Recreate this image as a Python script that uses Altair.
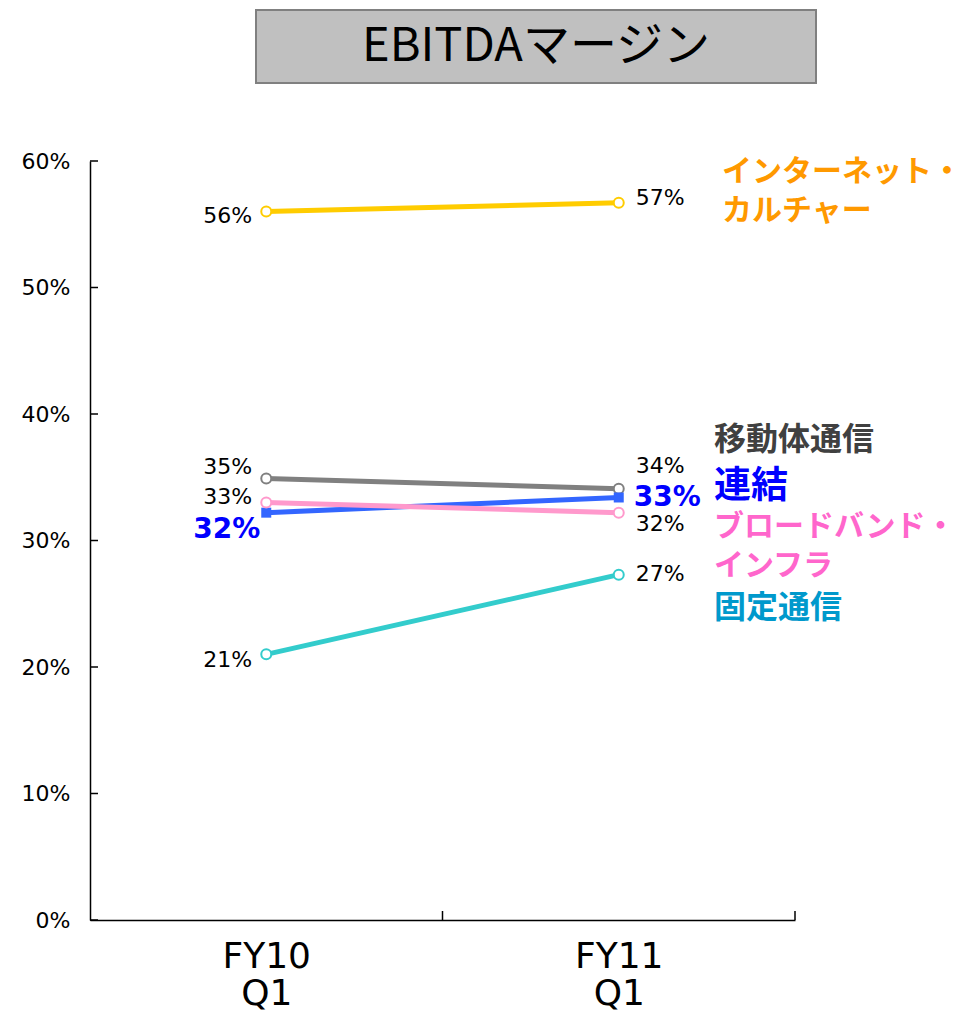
import altair as alt
import pandas as pd

periods = ["FY10 Q1", "FY11 Q1"]
series = ["固定通信", "インターネット・カルチャー", "移動体通信", "連結", "ブロードバンド・インフラ"]
values = {
    "固定通信": [21.0, 27.3],
    "インターネット・カルチャー": [56.0, 56.7],
    "移動体通信": [34.9, 34.1],
    "連結": [32.2, 33.4],
    "ブロードバンド・インフラ": [33.0, 32.2],
}
label_text = {
    "固定通信": ["21%", "27%"],
    "インターネット・カルチャー": ["56%", "57%"],
    "移動体通信": ["35%", "34%"],
    "連結": ["32%", "33%"],
    "ブロードバンド・インフラ": ["33%", "32%"],
}
# vertical nudges (px) for value labels, kept apart from the data
label_nudge = {
    "固定通信": [6, -1],
    "インターネット・カルチャー": [4, -5],
    "移動体通信": [-12, -23],
    "連結": [17, 1],
    "ブロードバンド・インフラ": [-6, 11],
}
line_colors = {
    "固定通信": "#33cccc",
    "インターネット・カルチャー": "#ffcc00",
    "移動体通信": "#808080",
    "連結": "#3366ff",
    "ブロードバンド・インフラ": "#ff99cc",
}
legend_lines = [
    ("インターネット・", "#ff9900", 632, 11, 30),
    ("カルチャー", "#ff9900", 632, 50, 30),
    ("移動体通信", "#404040", 624, 279, 32),
    ("連結", "#0000ff", 624, 326, 37),
    ("ブロードバンド・", "#ff66cc", 624, 366, 30),
    ("インフラ", "#ff66cc", 624, 405, 30),
    ("固定通信", "#0099cc", 624, 447, 32),
]
y_ticks = [0, 10, 20, 30, 40, 50, 60]

FONT = "Noto Sans CJK JP"
NUM_FONT = "DejaVu Sans"

rows = []
for s in series:
    for i, p in enumerate(periods):
        rows.append({"series": s, "period": p, "value": values[s][i],
                     "label": label_text[s][i]})
df = pd.DataFrame(rows)

W, H = 705, 759

xscale = alt.Scale(domain=periods, paddingInner=0, paddingOuter=0)
yscale = alt.Scale(domain=[0, 60], nice=False, zero=True)

x_axis = alt.Axis(title=None, labelAngle=0, ticks=False, tickBand="extent",
                  labelExpr="split(datum.label, ' ')",
                  labelFontSize=36, labelFont=NUM_FONT, labelColor="black",
                  labelPadding=19, labelLineHeight=37, labelBaseline="top",
                  domainColor="black", domainWidth=1.5, grid=False)
y_axis = alt.Axis(title=None, values=y_ticks, ticks=False,
                  labelExpr="datum.value + '%'",
                  labelFontSize=22, labelFont=NUM_FONT, labelColor="black",
                  labelPadding=20, domainColor="black", domainWidth=1.5,
                  grid=False)

base = alt.Chart(df)
px = alt.X("period:N", scale=xscale, sort=periods, axis=x_axis)
py = alt.Y("value:Q", scale=yscale, axis=y_axis)

layers = []
for s in series:
    sub = base.transform_filter(alt.datum.series == s)
    col = line_colors[s]
    line = sub.mark_line(color=col, strokeWidth=5).encode(x=px, y=py)
    if s == "連結":
        pts = sub.mark_point(shape="square", filled=True, color=col, size=100,
                             opacity=1).encode(x=px, y=py)
    else:
        pts = sub.mark_point(shape="circle", filled=True, fill="white", stroke=col,
                             strokeWidth=2, size=100, opacity=1).encode(x=px, y=py)
    layers += [line, pts]

# y ticks (inward)
ytick_df = pd.DataFrame({"value": y_ticks})
yticks = alt.Chart(ytick_df).mark_rule(color="black", strokeWidth=1.5).encode(
    y=py, x=alt.value(0), x2=alt.value(8))
# x ticks at band boundaries (inward)
xtick_df = pd.DataFrame({"period": periods})
xticks = alt.Chart(xtick_df).mark_rule(color="black", strokeWidth=1.5).encode(
    x=alt.X("period:N", scale=xscale, sort=periods, bandPosition=1, axis=x_axis),
    y=alt.value(H), y2=alt.value(H - 9))

# value labels, one layer each so that each gets its own nudge
labels = []
for s in series:
    for i, p in enumerate(periods):
        bold = s == "連結"
        left = i == 0
        sub = base.transform_filter((alt.datum.series == s) & (alt.datum.period == p))
        labels.append(sub.mark_text(
            align="right" if left else "left", baseline="middle",
            dx=(-6 if bold else -14) if left else (15 if bold else 17),
            dy=label_nudge[s][i],
            font=NUM_FONT, fontSize=28 if bold else 22,
            fontWeight="bold" if bold else "normal",
            color="#0000ff" if bold else "black").encode(x=px, y=py, text="label:N"))

# series names on the right
legend_df = pd.DataFrame({"t": [l[0] for l in legend_lines],
                          "c": [l[1] for l in legend_lines]})
legend_layers = []
for i, (t, c, lx, ly, fs) in enumerate(legend_lines):
    legend_layers.append(
        alt.Chart(legend_df.iloc[[i]]).mark_text(
            align="left", baseline="middle", font=FONT, fontSize=fs,
            fontWeight="bold", color=c).encode(
            x=alt.value(lx), y=alt.value(ly), text="t:N"))

# title box
title_df = pd.DataFrame({"t": ["EBITDAマージン"]})
title_box = alt.Chart(title_df).mark_rect(fill="#c0c0c0", stroke="#808080", strokeWidth=2).encode(
    x=alt.value(166), x2=alt.value(726), y=alt.value(-151), y2=alt.value(-78))
title_text = alt.Chart(title_df).mark_text(
    align="center", baseline="middle", font=FONT, fontSize=47, color="black").encode(
    x=alt.value(446), y=alt.value(-114), text="t:N")

chart = alt.layer(
    *layers, yticks, xticks, *labels, *legend_layers, title_box, title_text
).properties(
    width=W, height=H,
    autosize=alt.AutoSizeParams(type="none"),
    padding={"left": 82, "top": 153, "right": 167, "bottom": 91},
    view=alt.ViewBackground(stroke="transparent", strokeWidth=0, strokeOpacity=0),
).configure_view(stroke="transparent", strokeWidth=0, strokeOpacity=0
).configure_axis(grid=False).configure(background="white")

chart.save("out.html", embed_options={"renderer": "svg", "actions": False})
